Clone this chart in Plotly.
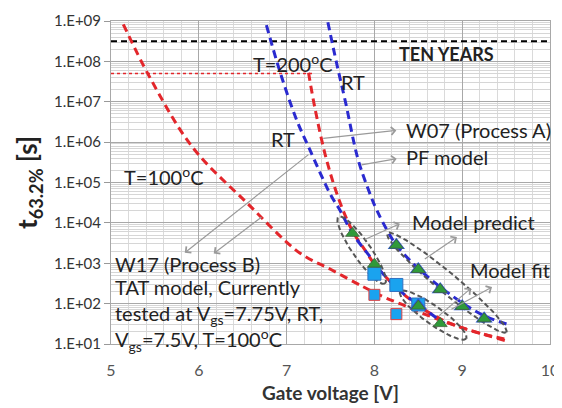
import numpy as np
import plotly.graph_objects as go

# ---------------- data ----------------
# model curves: gate voltage [V] and t63.2% [s]
red100_x = [5.14, 5.44, 5.93, 6.55, 7.15, 7.5, 7.87, 8.1, 8.3, 8.6, 8.9, 9.2, 9.53]
red100_y = [8.3e8, 4.1e7, 7.4e5, 3.1e4, 1.8e3, 710, 263, 148, 98, 52, 30, 18.6, 12.6]

red200_x = [7.25, 7.32, 7.45, 7.6, 7.75, 7.9, 8.0, 8.25, 8.5, 8.75, 9.0, 9.3, 9.5]
red200_y = [5.2e7, 7.4e6, 4.0e5, 3.6e4, 6.3e3, 2.0e3, 955, 250, 89, 42, 25, 16, 12]

blueL_x = [6.77, 6.925, 7.115, 7.267, 7.5, 7.6, 7.75, 7.95, 8.06, 8.3, 8.5, 8.75, 8.8]
blueL_y = [7.9e8, 5.5e7, 3.5e6, 6.3e5, 5.0e4, 2.2e4, 5.5e3, 1.45e3, 680, 200, 95, 38, 32]

blueR_x = [7.47, 7.57, 7.67, 7.81, 7.93, 8.03, 8.18, 8.25, 8.48, 8.73, 9.0, 9.25, 9.53]
blueR_y = [9.3e8, 8.9e7, 1.0e7, 4.0e5, 6.8e4, 2.0e4, 4.8e3, 2.8e3, 810, 280, 105, 50, 30]

# measured points
w07_x = [7.75, 8.0, 8.25, 8.5, 8.75, 9.0, 9.25, 8.5, 8.75]
w07_y = [5500, 950, 2800, 700, 225, 85, 42, 87, 32]
w07rt_x = [8.25, 8.5, 8.75, 9.0, 9.25, 8.5]
w07rt_y = [2800, 700, 225, 85, 42, 90]

w17rt_x = [8.0, 8.25, 8.5]
w17rt_y = [550, 290, 95]
w17ht_x = [8.0, 8.25]
w17ht_y = [165, 55]

# reference levels
ten_years = 3.15e8
ten_years_x = [5, 10]
spec_level = 5e7
spec_x = [5, 7.32]

ytick_vals = [1e1, 1e2, 1e3, 1e4, 1e5, 1e6, 1e7, 1e8, 1e9]
ytick_text = ["1.E+01", "1.E+02", "1.E+03", "1.E+04", "1.E+05",
              "1.E+06", "1.E+07", "1.E+08", "1.E+09"]

RED = "#e3262b"
BLUE = "#2a2ad0"
FONT = "Lato"

fig = go.Figure()


def curve(x, y, color):
    fig.add_trace(go.Scatter(x=x, y=y, mode="lines", line_shape="spline",
                             line=dict(color=color, width=3, dash="8px,5px"),
                             hoverinfo="skip", showlegend=False))


fig.add_trace(go.Scatter(x=ten_years_x, y=[ten_years] * 2, mode="lines",
                         line=dict(color="black", width=2, dash="6px,4px"),
                         showlegend=False, hoverinfo="skip"))
fig.add_trace(go.Scatter(x=spec_x, y=[spec_level] * 2, mode="lines",
                         line=dict(color=RED, width=1.5, dash="dot"),
                         showlegend=False, hoverinfo="skip"))

curve(red100_x, red100_y, RED)
curve(red200_x, red200_y, RED)
curve(blueL_x, blueL_y, BLUE)
curve(blueR_x, blueR_y, BLUE)

# dashed ellipses (grouping marks): endpoints (x, log10 y) and half width in px
SX, SY = 87.8, 40.4
ellipses = [((7.63, 4.03), (8.08, 2.62), 9),
            ((8.20, 3.65), (9.45, 1.39), 10),
            ((8.35, 2.21), (8.99, 1.22), 9)]
t = np.linspace(0, 2 * np.pi, 120)
for (x1, l1), (x2, l2), hw in ellipses:
    p1 = np.array([x1 * SX, -l1 * SY])
    p2 = np.array([x2 * SX, -l2 * SY])
    c = (p1 + p2) / 2
    d = p2 - p1
    a = np.linalg.norm(d) / 2 + 6
    u = d / np.linalg.norm(d)
    v = np.array([-u[1], u[0]])
    pts = c[:, None] + np.outer(u, a * np.cos(t)) + np.outer(v, hw * np.sin(t))
    fig.add_trace(go.Scatter(x=pts[0] / SX, y=10 ** (-pts[1] / SY), mode="lines",
                             line=dict(color="#555555", width=2, dash="5px,3px"),
                             hoverinfo="skip", showlegend=False))

fig.add_trace(go.Scatter(x=w17rt_x, y=w17rt_y, mode="markers",
                         marker=dict(symbol="square", size=13, color="#1aa3ef",
                                     line=dict(color="#3070c0", width=1)),
                         showlegend=False))
fig.add_trace(go.Scatter(x=w17ht_x, y=w17ht_y, mode="markers",
                         marker=dict(symbol="square", size=11, color="#1aa3ef",
                                     line=dict(color="#e04040", width=1)),
                         showlegend=False))
fig.add_trace(go.Scatter(x=w07rt_x, y=w07rt_y, mode="markers",
                         marker=dict(symbol="triangle-up", size=15, color="#2d5ad8"),
                         showlegend=False))
fig.add_trace(go.Scatter(x=w07_x, y=w07_y, mode="markers",
                         marker=dict(symbol="triangle-up", size=12, color="#2f9a3a",
                                     line=dict(color="#40603a", width=0.8)),
                         showlegend=False))

# ---------------- text ----------------
FS = 20
labels = [
    (8.82, 8.19, "<b>TEN YEARS</b>", "center", 18),
    (6.60, 7.95, "T=200<sup>o</sup>C", "left", FS),
    (7.60, 7.49, "RT", "left", FS),
    (6.80, 6.07, "RT", "left", FS),
    (8.34, 6.31, "W07 (Process A)", "left", FS),
    (8.34, 5.63, "PF model", "left", FS),
    (5.12, 5.17, "T=100<sup>o</sup>C", "left", FS),
    (8.41, 4.02, "Model predict", "left", FS),
    (9.07, 2.83, "Model fit", "left", FS),
    (5.02, 2.98, "W17 (Process B)", "left", FS),
    (5.02, 2.41, "TAT model, Currently", "left", FS),
    (5.02, 1.74, "tested at V<sub>gs</sub>=7.75V, RT,", "left", FS),
    (5.02, 1.10, "V<sub>gs</sub>=7.5V, T=100<sup>o</sup>C", "left", FS),
]
for x, ly, s, anc, fs in labels:
    fig.add_annotation(x=x, y=ly, text=s, showarrow=False, xanchor=anc, yanchor="middle",
                       font=dict(family=FONT, size=fs, color="#222222"))

# arrows: (tail x, tail log y) -> (head x, head log y)
arrows = [((7.40, 6.09), (8.25, 6.29)),
          ((7.836, 5.43), (8.254, 5.59)),
          ((7.266, 5.72), (5.84, 3.26)),
          ((6.73, 4.17), (6.17, 3.24)),
          ((7.874, 3.57), (8.29, 3.98)),
          ((8.557, 3.08), (8.94, 3.65)),
          ((8.72, 1.67), (9.10, 2.38)),
          ((8.86, 1.84), (9.34, 2.41))]
for (tx, tl), (hx, hl) in arrows:
    fig.add_annotation(x=hx, y=hl, ax=tx, ay=tl, axref="x", ayref="y", xref="x", yref="y",
                       text="", showarrow=True, arrowhead=4, arrowsize=1.3,
                       arrowwidth=1.2, arrowcolor="#9a9a9a")

fig.update_layout(
    width=562, height=408,
    margin=dict(l=103, r=20, t=13, b=72),
    paper_bgcolor="white", plot_bgcolor="white",
    font=dict(family=FONT, color="#333333"),
    showlegend=False,
)
fig.update_xaxes(range=[5, 10], dtick=1, showgrid=True, gridcolor="#a8a8a8", gridwidth=1,
                 minor=dict(dtick=0.2, showgrid=True, gridcolor="#dadada", gridwidth=1),
                 zeroline=False, showline=True, linecolor="#a8a8a8", mirror=True,
                 automargin=False,
                 ticks="outside", ticklen=12, tickcolor="rgba(0,0,0,0)",
                 tickfont=dict(family=FONT, size=16, color="#555555"),
                 title=dict(text="<b>Gate voltage [V]</b>", standoff=8,
                            font=dict(family=FONT, size=19, color="#333333")))
fig.update_yaxes(type="log", range=[1, 9], tickvals=ytick_vals, ticktext=ytick_text,
                 showgrid=True, gridcolor="#a8a8a8", gridwidth=1,
                 minor=dict(dtick="D1", showgrid=True, gridcolor="#d6d6d6", gridwidth=1),
                 zeroline=False, showline=True, linecolor="#a8a8a8", mirror=True,
                 automargin=False,
                 ticks="outside", ticklen=6, tickcolor="#999999",
                 tickfont=dict(family=FONT, size=15, color="#333333"),
                 title=dict(text="<b>t<sub>63.2%</sub> [s]</b>", standoff=8,
                            font=dict(family=FONT, size=26, color="#222222")))

fig.write_html("out.html")
